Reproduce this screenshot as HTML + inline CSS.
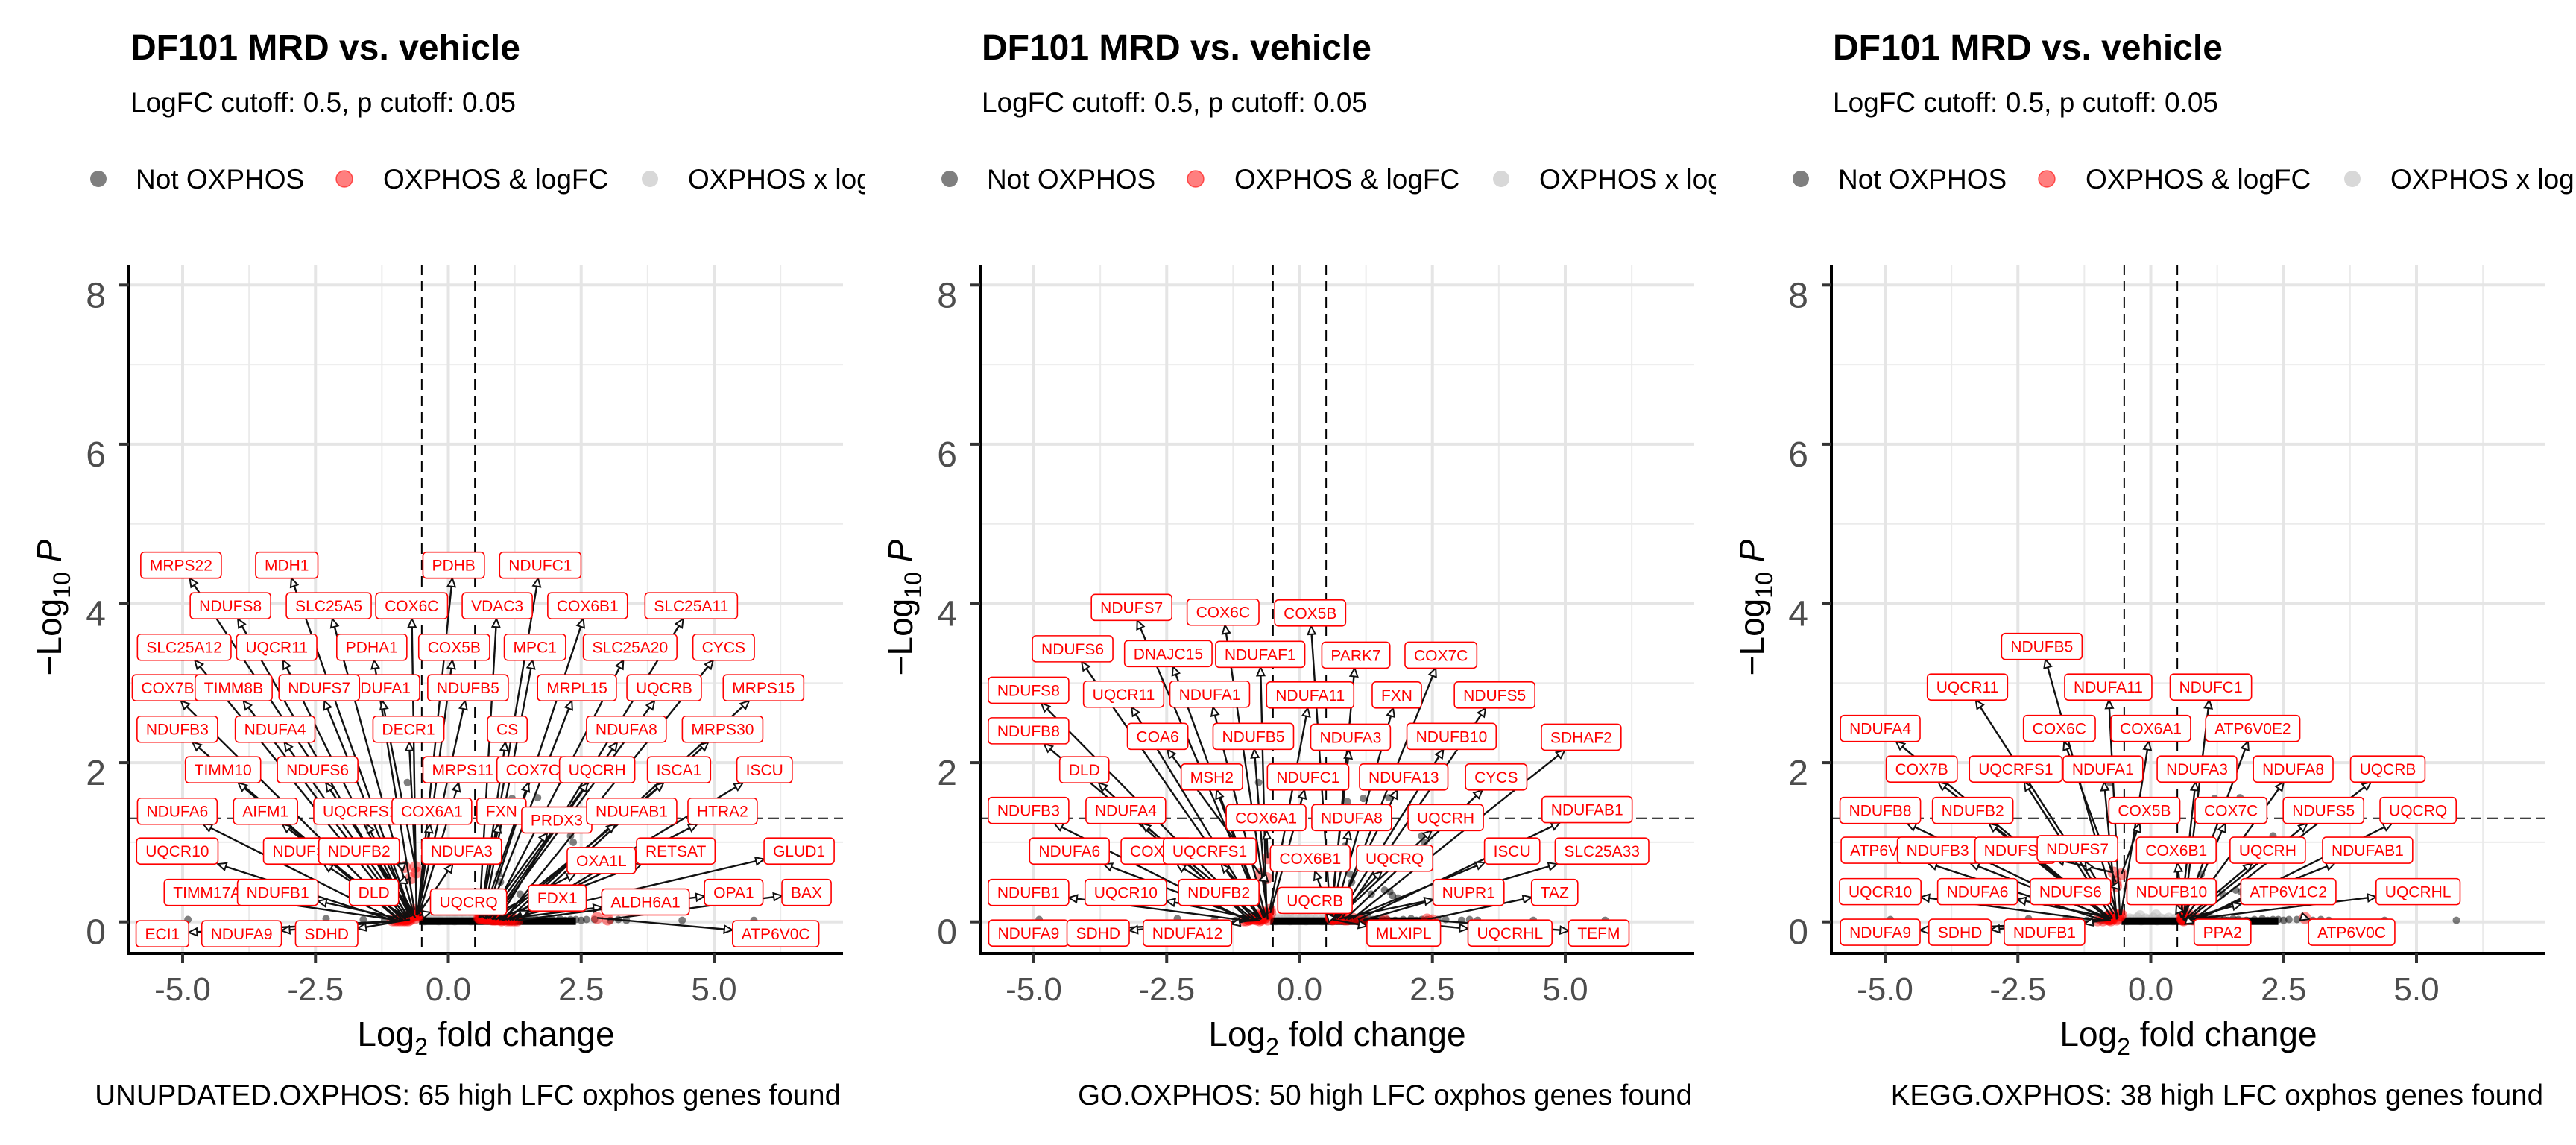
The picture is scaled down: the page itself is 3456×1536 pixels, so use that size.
<!DOCTYPE html>
<html><head><meta charset="utf-8">
<style>
html,body{margin:0;padding:0;background:#fff;}
svg{display:block;font-family:"Liberation Sans",Arial,sans-serif;}
</style></head>
<body>
<svg id="root" width="3456" height="1536" viewBox="0 0 3456 1536" xmlns="http://www.w3.org/2000/svg">
<defs>
<clipPath id="legclip0"><rect x="0" y="190" width="1160" height="100"/></clipPath>
<clipPath id="legclip1"><rect x="1142" y="190" width="1160" height="100"/></clipPath>
<clipPath id="legclip2"><rect x="2284" y="190" width="1172" height="100"/></clipPath>
</defs>
</svg>
<script>
// ---- data ----
const panelCaptions = ["UNUPDATED.OXPHOS: 65 high LFC oxphos genes found","GO.OXPHOS: 50 high LFC oxphos genes found","KEGG.OXPHOS: 38 high LFC oxphos genes found"];
const xTicks = [-5,-2.5,0,2.5,5];
const xTickLabels = ["-5.0","-2.5","0.0","2.5","5.0"];
const yTicks = [0,2,4,6,8];
const yTickLabels = ["0","2","4","6","8"];
const lfcCutoff = 0.5;
const pCutoff = 0.05;

// background (not OXPHOS) genes shared by all panels
const bgX = [-4.9,-2.3,-1.6,-1.2,-1.0,-0.92,-0.85,-0.8,-0.74,-0.68,0.55,0.62,0.7,0.77,0.85,0.93,1.0,1.08,1.15,1.22,1.3,1.38,1.45,1.55,1.65,1.8,1.95,2.1,2.2,2.3,2.4,2.5,2.6,2.75,3.05,3.2,3.35,4.4,5.75,0.95,0.98,1.35,0.85,1.6,1.7,1.75,1.85,-0.77,1.68,0.9,1.2,2.3,2.35];
const bgY = [0.03,0.04,0.03,0.02,0.03,0.02,0.04,0.03,0.02,0.05,0.03,0.04,0.02,0.05,0.03,0.04,0.02,0.03,0.05,0.02,0.04,0.03,0.02,0.04,0.03,0.02,0.03,0.04,0.02,0.03,0.03,0.02,0.03,0.03,0.02,0.03,0.02,0.02,0.02,0.6,0.5,0.35,0.95,0.4,0.38,0.33,0.3,1.75,1.56,1.51,1.55,1.08,1.0];
// OXPHOS genes not passing logFC (light grey)
const greyX = [-0.45,-0.4,-0.33,-0.25,-0.18,-0.1,-0.03,0.05,0.12,0.19,0.27,0.34,0.42,0.48,-0.2,0.1];
const greyY = [0.02,0.04,0.03,0.05,0.02,0.04,0.03,0.05,0.02,0.04,0.03,0.05,0.02,0.04,0.08,0.09];

// panel 1
const genes1 = ["MRPS22","MDH1","PDHB","NDUFC1","NDUFS8","SLC25A5","COX6C","VDAC3","COX6B1","SLC25A11","SLC25A12","UQCR11","PDHA1","COX5B","MPC1","SLC25A20","CYCS","COX7B","TIMM8B","NDUFA1","NDUFS7","NDUFB5","MRPL15","UQCRB","MRPS15","NDUFB3","NDUFA4","DECR1","CS","NDUFA8","MRPS30","TIMM10","NDUFS6","MRPS11","COX7C","UQCRH","ISCA1","ISCU","NDUFA6","AIFM1","UQCRFS1","COX6A1","FXN","PRDX3","NDUFAB1","HTRA2","UQCR10","NDUFS2","NDUFB2","NDUFA3","OXA1L","RETSAT","GLUD1","TIMM17A","NDUFB1","DLD","UQCRQ","FDX1","ALDH6A1","OPA1","BAX","ECI1","NDUFA9","SDHD","ATP6V0C"];
const labX1 = [-5.03,-3.04,0.10,1.73,-4.10,-2.25,-0.69,0.92,2.62,4.57,-4.97,-3.23,-1.44,0.11,1.63,3.42,5.18,-5.28,-4.04,-1.29,-2.43,0.37,2.42,4.06,5.93,-5.10,-3.26,-0.75,1.11,3.35,5.16,-4.24,-2.46,0.27,1.59,2.80,4.34,5.95,-5.10,-3.44,-1.66,-0.31,1.0,2.04,3.45,5.16,-5.10,-2.72,-1.68,0.25,2.88,4.28,6.60,-4.54,-3.21,-1.40,0.38,2.05,3.71,5.37,6.74,-5.38,-3.89,-2.29,6.16];
const labY1 = [4.48,4.48,4.48,4.48,3.97,3.97,3.97,3.97,3.97,3.97,3.45,3.45,3.45,3.45,3.45,3.45,3.45,2.94,2.94,2.94,2.94,2.94,2.94,2.94,2.94,2.42,2.42,2.42,2.42,2.42,2.42,1.91,1.91,1.91,1.91,1.91,1.91,1.91,1.39,1.39,1.39,1.39,1.39,1.28,1.39,1.39,0.89,0.89,0.89,0.89,0.77,0.89,0.89,0.37,0.37,0.37,0.25,0.30,0.25,0.37,0.37,-0.15,-0.15,-0.15,-0.15];
const ptX1 = [-0.62,-0.7,-0.58,0.62,-0.75,-0.66,-0.6,0.58,0.7,0.95,-0.8,-0.72,-0.64,-0.56,0.66,0.78,1.05,-0.85,-0.78,-0.6,-0.7,-0.57,0.72,0.85,1.1,-0.9,-0.74,-0.62,0.6,0.82,1.2,-0.95,-0.68,-0.55,0.64,0.75,1.0,1.25,-1.0,-0.82,-0.65,-0.58,0.6,0.68,0.9,1.15,-1.05,-0.78,-0.82,-0.56,0.7,0.88,1.0,-0.95,-0.85,-0.7,-0.55,1.2,0.95,1.3,3.0,-0.75,-0.8,-0.72,2.8];
const ptY1 = [0.05,0.1,0.08,0.06,0.04,0.12,0.09,0.05,0.07,0.04,0.03,0.06,0.15,0.1,0.05,0.04,0.03,0.02,0.05,0.62,0.08,0.11,0.04,0.03,0.02,0.02,0.06,0.69,0.05,0.03,0.02,0.03,0.07,0.1,0.06,0.04,0.03,0.02,0.02,0.04,0.09,0.12,0.05,0.04,0.03,0.02,0.02,0.05,0.69,0.1,0.04,0.03,0.02,0.02,0.03,0.55,0.08,0.05,0.03,0.02,0.03,0.02,0.02,0.03,0.05];

// panel 2
const genes2 = ["NDUFS7","COX6C","COX5B","NDUFS6","DNAJC15","NDUFAF1","PARK7","COX7C","NDUFS8","UQCR11","NDUFA1","NDUFA11","FXN","NDUFS5","NDUFB8","COA6","NDUFB5","NDUFA3","NDUFB10","SDHAF2","DLD","MSH2","NDUFC1","NDUFA13","CYCS","NDUFB3","NDUFA4","COX6A1","NDUFA8","UQCRH","NDUFAB1","NDUFA6","COX7B","UQCRFS1","COX6B1","UQCRQ","ISCU","SLC25A33","NDUFB1","UQCR10","NDUFB2","UQCRB","NUPR1","TAZ","NDUFA9","SDHD","NDUFA12","MLXIPL","UQCRHL","TEFM"];
const labX2 = [-3.16,-1.44,0.20,-4.27,-2.47,-0.74,1.06,2.66,-5.10,-3.31,-1.69,0.20,1.83,3.67,-5.10,-2.67,-0.87,0.96,2.86,5.30,-4.05,-1.65,0.16,1.96,3.70,-5.10,-3.27,-0.63,0.98,2.75,5.41,-4.33,-2.69,-1.69,0.20,1.79,4.0,5.69,-5.10,-3.27,-1.52,0.29,3.18,4.80,-5.10,-3.79,-2.11,1.96,3.96,5.63];
const labY2 = [3.95,3.89,3.88,3.43,3.37,3.36,3.35,3.35,2.91,2.86,2.86,2.85,2.85,2.85,2.40,2.33,2.33,2.32,2.33,2.32,1.91,1.82,1.82,1.82,1.82,1.40,1.40,1.31,1.31,1.31,1.41,0.89,0.89,0.89,0.80,0.80,0.89,0.89,0.37,0.37,0.37,0.27,0.37,0.37,-0.14,-0.14,-0.14,-0.14,-0.14,-0.14];
const ptX2 = [-0.66,-0.6,0.58,-0.75,-0.7,-0.62,0.6,0.7,-0.85,-0.72,-0.64,-0.56,0.66,0.8,-0.9,-0.74,-0.6,0.58,0.72,1.0,-0.95,-0.68,-0.55,0.64,0.85,-1.0,-0.8,-0.6,0.6,0.7,1.1,-0.95,-0.78,-0.65,0.6,0.66,0.9,1.2,-1.05,-0.85,-0.62,0.58,0.75,2.4,-0.75,-0.8,-0.72,0.62,1.6,2.5];
const ptY2 = [0.05,0.1,0.08,0.04,0.12,0.09,0.05,0.07,0.04,0.03,0.06,0.15,0.1,0.05,0.04,0.6,0.03,0.08,0.05,0.04,0.03,0.06,0.11,0.04,0.03,0.02,0.06,0.8,0.05,0.04,0.03,0.03,0.07,0.1,0.06,0.04,0.03,0.02,0.02,0.04,0.55,0.05,0.04,0.03,0.02,0.03,0.05,0.03,0.02,0.02];

// panel 3
const genes3 = ["NDUFB5","UQCR11","NDUFA11","NDUFC1","NDUFA4","COX6C","COX6A1","ATP6V0E2","COX7B","UQCRFS1","NDUFA1","NDUFA3","NDUFA8","UQCRB","NDUFB8","NDUFB2","COX5B","COX7C","NDUFS5","UQCRQ","ATP6V1B2","NDUFB3","NDUFS8","NDUFS7","COX6B1","UQCRH","NDUFAB1","UQCR10","NDUFA6","NDUFS6","NDUFB10","ATP6V1C2","UQCRHL","NDUFA9","SDHD","NDUFB1","PPA2","ATP6V0C"];
const labX3 = [-2.05,-3.45,-0.80,1.13,-5.09,-1.72,0.0,1.92,-4.31,-2.54,-0.90,0.87,2.68,4.46,-5.09,-3.35,-0.12,1.51,3.25,5.03,-4.94,-4.01,-2.55,-1.38,0.48,2.20,4.08,-5.09,-3.26,-1.51,0.39,2.59,5.03,-5.09,-3.59,-2.0,1.35,3.78];
const labY3 = [3.46,2.95,2.95,2.95,2.43,2.43,2.43,2.43,1.92,1.92,1.92,1.92,1.92,1.92,1.40,1.40,1.40,1.40,1.40,1.40,0.90,0.90,0.90,0.92,0.90,0.90,0.90,0.38,0.38,0.38,0.38,0.38,0.38,-0.13,-0.13,-0.13,-0.13,-0.13];
const ptX3 = [-0.62,-0.7,-0.58,0.62,-0.75,-0.66,-0.56,0.6,-0.8,-0.72,-0.64,0.58,0.7,0.85,-0.85,-0.78,-0.55,0.62,0.72,0.9,-0.9,-0.8,-0.7,-0.62,0.6,0.66,0.8,-1.0,-0.82,-0.65,0.58,0.6,0.62,-0.75,-0.8,-0.72,0.62,2.9];
const ptY3 = [0.05,0.1,0.08,0.06,0.04,0.5,0.09,0.05,0.07,0.04,0.03,0.15,0.1,0.05,0.04,0.03,0.6,0.06,0.04,0.03,0.02,0.05,0.62,0.08,0.11,0.04,0.03,0.02,0.06,0.45,0.05,0.03,0.02,0.02,0.03,0.05,0.03,0.05];

const panelGenes = [genes1, genes2, genes3];
const panelLabX = [labX1, labX2, labX3];
const panelLabY = [labY1, labY2, labY3];
const panelPtX = [ptX1, ptX2, ptX3];
const panelPtY = [ptY1, ptY2, ptY3];

// ---- layout ----
const NS = "http://www.w3.org/2000/svg";
const root = document.getElementById('root');
const PANEL_DX = 1142;
const PL = 173, PR = 1131, PT = 355, PB = 1279;
const X0 = 601.5, XU = 71.3, Y0 = 1236.7, YU = 106.8;
const sx = v => X0 + v * XU;
const sy = v => Y0 - v * YU;

function mk(tag, attrs, parent) {
  const e = document.createElementNS(NS, tag);
  for (const k in attrs) e.setAttribute(k, attrs[k]);
  parent.appendChild(e);
  return e;
}

for (let p = 0; p < 3; p++) {
  const g = mk('g', {transform: 'translate(' + (p * PANEL_DX) + ',0)'}, root);
  
  

  const t = mk('text', {x: 175, y: 80, 'font-size': 48, 'font-weight': 'bold', fill: '#000'}, g);
  t.textContent = 'DF101 MRD vs. vehicle';
  
  
  const st = mk('text', {x: 175, y: 150, 'font-size': 37, fill: '#000'}, g);
  st.textContent = 'LogFC cutoff: 0.5, p cutoff: 0.05';
  
  

  // legend
  const lg = mk('g', {'clip-path': 'url(#legclip' + p + ')', transform: 'translate(' + (-p * PANEL_DX) + ',0)'}, g);
  const lgi = mk('g', {transform: 'translate(' + (p * PANEL_DX) + ',0)'}, lg);
  
  
  const legItems = [["Not OXPHOS", 132, 182, 'rgba(0,0,0,0.5)', 'none'], ["OXPHOS & logFC", 462, 514, 'rgba(255,0,0,0.5)', 'rgba(255,0,0,0.6)'], ["OXPHOS x logFC", 872, 923, 'rgba(190,190,190,0.6)', 'none']];
  legItems.forEach((it, i) => {
    const c = mk('circle', {cx: it[1], cy: 240, r: 11, fill: it[3], stroke: it[4], 'stroke-width': 1.5}, lgi);
    
    
    const lt = mk('text', {x: it[2], y: 253, 'font-size': 37, fill: '#000'}, lgi);
    lt.textContent = it[0];
    
    
  });

  // grid
  const grid = mk('g', {}, g);
  
  
  [-3.75, -1.25, 1.25, 3.75, 6.25].forEach(v => mk('line', {x1: sx(v), x2: sx(v), y1: PT, y2: PB, stroke: '#ebebeb', 'stroke-width': 2}, grid));
  [1, 3, 5, 7].forEach(v => mk('line', {x1: PL, x2: PR, y1: sy(v), y2: sy(v), stroke: '#ebebeb', 'stroke-width': 2}, grid));
  xTicks.forEach(v => mk('line', {x1: sx(v), x2: sx(v), y1: PT, y2: PB, stroke: '#e5e5e5', 'stroke-width': 4}, grid));
  yTicks.forEach(v => mk('line', {x1: PL, x2: PR, y1: sy(v), y2: sy(v), stroke: '#e5e5e5', 'stroke-width': 4}, grid));

  // cutoff lines
  [-lfcCutoff, lfcCutoff].forEach((v, i) => {
    const l = mk('line', {x1: sx(v), x2: sx(v), y1: PT, y2: PB, stroke: '#000', 'stroke-width': 2, 'stroke-dasharray': '14,8'}, g);
    
    
  });
  const hl = mk('line', {x1: PL, x2: PR, y1: sy(-Math.log10(pCutoff)), y2: sy(-Math.log10(pCutoff)), stroke: '#000', 'stroke-width': 2, 'stroke-dasharray': '14,8'}, g);
  
  

  // points
  const pts = mk('g', {}, g);
  
  
  greyX.forEach((v, i) => {
    const c = mk('circle', {cx: sx(v), cy: sy(greyY[i]), r: 7, fill: 'rgba(190,190,190,0.55)'}, pts);
    
    
  });
  bgX.forEach((v, i) => {
    const c = mk('circle', {cx: sx(v), cy: sy(bgY[i]), r: 5, fill: 'rgba(0,0,0,0.5)'}, pts);
    
    
  });
  const band = mk('rect', {x: sx(-0.55), y: Y0 - 6, width: sx(2.4) - sx(-0.55), height: 10, fill: '#000'}, pts);
  
  
  const px = panelPtX[p], py = panelPtY[p], lx = panelLabX[p], ly = panelLabY[p], gn = panelGenes[p];
  px.forEach((v, i) => {
    const c = mk('circle', {cx: sx(v), cy: sy(py[i]), r: 8, fill: 'rgba(255,0,0,0.45)'}, pts);
    
    
  });

  // labels
  const segG = mk('g', {}, g);
  
  
  const labG = mk('g', {}, g);
  
  
  gn.forEach((name, i) => {
    const cx = sx(lx[i]), cy = sy(ly[i]);
    const lbl = mk('g', {}, labG);
    
    
    const r = mk('rect', {rx: 5, ry: 5, fill: '#fff', stroke: '#ff0000', 'stroke-width': 1.6}, lbl);
    const tx = mk('text', {x: cx, y: cy + 7.5, 'font-size': 21, fill: '#ff0000', 'text-anchor': 'middle'}, lbl);
    tx.textContent = name;
    let w = 0;
    try { w = tx.getComputedTextLength(); } catch (e) { w = name.length * 13; }
    if (!w) w = name.length * 13;
    const hw = w / 2 + 12, hh = 17.5;
    r.setAttribute('x', cx - hw); r.setAttribute('y', cy - hh);
    r.setAttribute('width', 2 * hw); r.setAttribute('height', 2 * hh);
    // connector
    const ptx = sx(px[i]), pty = sy(py[i]);
    const dx = cx - ptx, dy = cy - pty;
    const tt = Math.min(Math.abs(dx) > 0.01 ? hw / Math.abs(dx) : 1e9, Math.abs(dy) > 0.01 ? hh / Math.abs(dy) : 1e9);
    if (tt < 1) {
      const ex = cx - dx * tt, ey = cy - dy * tt;
      const L = Math.hypot(ex - ptx, ey - pty);
      const ux = (ex - ptx) / L, uy = (ey - pty) / L;
      const ln = mk('line', {x1: ptx, y1: pty, x2: ex - ux * 9, y2: ey - uy * 9, stroke: '#111', 'stroke-width': 2.4}, segG);
      
      
      const bx = ex - ux * 11, by = ey - uy * 11;
      const ah = mk('polygon', {points: ex + ',' + ey + ' ' + (bx - uy * 5) + ',' + (by + ux * 5) + ' ' + (bx + uy * 5) + ',' + (by - ux * 5), fill: '#fff', stroke: '#111', 'stroke-width': 2}, segG);
      
      
    }
  });

  // axes
  const ax = mk('g', {}, g);
  
  
  mk('line', {x1: PL, x2: PL, y1: PT, y2: PB + 2, stroke: '#000', 'stroke-width': 4}, ax);
  mk('line', {x1: PL - 2, x2: PR, y1: PB, y2: PB, stroke: '#000', 'stroke-width': 4}, ax);
  xTicks.forEach((v, i) => {
    mk('line', {x1: sx(v), x2: sx(v), y1: PB, y2: PB + 13, stroke: '#333', 'stroke-width': 4}, ax);
    const tl = mk('text', {x: sx(v), y: 1342, 'font-size': 44, fill: '#4d4d4d', 'text-anchor': 'middle'}, ax);
    tl.textContent = xTickLabels[i];
    
    
  });
  yTicks.forEach((v, i) => {
    mk('line', {x1: PL - 13, x2: PL, y1: sy(v), y2: sy(v), stroke: '#333', 'stroke-width': 4}, ax);
    const tl = mk('text', {x: 142, y: sy(v) + 30, 'font-size': 48, fill: '#4d4d4d', 'text-anchor': 'end'}, ax);
    tl.textContent = yTickLabels[i];
    
    
  });
  const xt = mk('text', {x: 652, y: 1403, 'font-size': 46, fill: '#000', 'text-anchor': 'middle'}, g);
  xt.innerHTML = 'Log<tspan font-size="32" dy="12">2</tspan><tspan dy="-12"> fold change</tspan>';
  
  
  const yt = mk('text', {x: 0, y: 0, 'font-size': 46, fill: '#000', 'text-anchor': 'middle', transform: 'translate(82,815) rotate(-90)'}, g);
  yt.innerHTML = '\u2212Log<tspan font-size="32" dy="12">10</tspan><tspan dy="-12"> </tspan><tspan font-style="italic">P</tspan>';
  
  
  const cap = mk('text', {x: 1128, y: 1482, 'font-size': 38.5, fill: '#000', 'text-anchor': 'end'}, g);
  cap.textContent = panelCaptions[p];
  
  
}
</script>
</body></html>
